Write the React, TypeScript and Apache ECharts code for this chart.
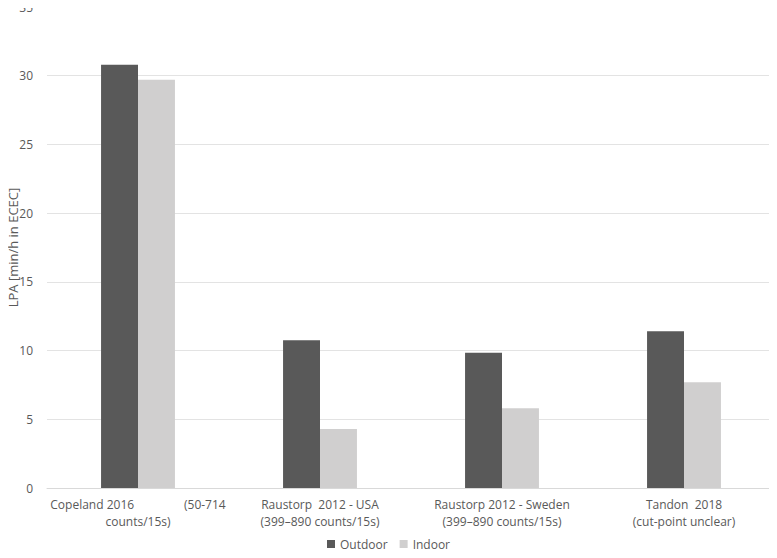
import React, { useEffect, useRef } from "react";
import * as echarts from "echarts";

const categories = [
  "Copeland 2016                (50-714\ncounts/15s)",
  "Raustorp  2012 - USA\n(399–890 counts/15s)",
  "Raustorp 2012 - Sweden\n(399–890 counts/15s)",
  "Tandon  2018\n(cut-point unclear)",
];
const outdoor = [30.8, 10.75, 9.85, 11.4];
const indoor = [29.7, 4.3, 5.8, 7.7];
const yTicks = { min: 0, max: 35, interval: 5 };

const FONT = "'Open Sans', 'Noto Sans', sans-serif";

export default function App() {
  const ref = useRef<HTMLDivElement>(null);
  useEffect(() => {
    if (!ref.current) return;
    const chart = echarts.init(ref.current, undefined, { renderer: "svg" });
    chart.setOption({
      animation: false,
      textStyle: { fontFamily: FONT },
      grid: { left: 47, right: 2, top: 7, bottom: 70, containLabel: false, outerBoundsMode: "none" },
      legend: {
        bottom: 3,
        left: "center",
        itemWidth: 8,
        itemHeight: 8,
        itemGap: 12,
        icon: "rect",
        textStyle: { color: "#595959", fontSize: 12, fontFamily: FONT },
        data: ["Outdoor", "Indoor"],
      },
      xAxis: {
        type: "category",
        data: categories,
        axisLine: { show: true, lineStyle: { color: "#d9d9d9" } },
        axisTick: { show: false },
        axisLabel: {
          color: "#595959",
          fontSize: 12,
          lineHeight: 17,
          margin: 8,
          interval: 0,
          fontFamily: FONT,
        },
      },
      yAxis: {
        type: "value",
        min: yTicks.min,
        max: yTicks.max,
        interval: yTicks.interval,
        name: "LPA [min/h in ECEC]",
        nameLocation: "middle",
        nameGap: 28,
        nameMoveOverlap: false,
        nameTextStyle: { color: "#595959", fontSize: 13, fontFamily: FONT },
        axisLine: { show: false },
        axisTick: { show: false },
        axisLabel: { color: "#595959", fontSize: 12, margin: 14, fontFamily: FONT },
        splitLine: { lineStyle: { color: "#e3e3e3", width: 1 } },
      },
      series: [
        {
          name: "Outdoor",
          type: "bar",
          data: outdoor,
          barWidth: "20.3%",
          barGap: "0%",
          itemStyle: { color: "#595959" },
        },
        {
          name: "Indoor",
          type: "bar",
          data: indoor,
          barWidth: "20.3%",
          itemStyle: { color: "#d0cfcf" },
        },
      ],
    });
    return () => chart.dispose();
  }, []);
  return <div ref={ref} style={{ width: 777, height: 558, margin: -8 }} />;
}
